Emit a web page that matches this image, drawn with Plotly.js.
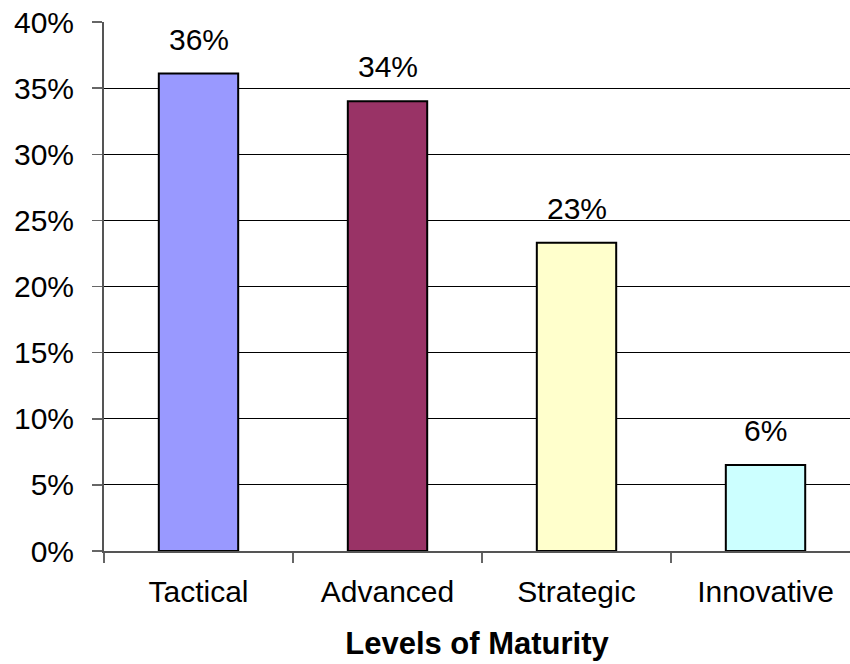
<!DOCTYPE html>
<html>
<head>
<meta charset="utf-8">
<script src="https://cdn.plot.ly/plotly-3.0.1.min.js"></script>
<style>html,body{margin:0;padding:0;background:#fff;}#chart{width:850px;height:664px;}</style>
</head>
<body>
<div id="chart"></div>
<script>
const categories = ["Tactical", "Advanced", "Strategic", "Innovative"];
const values = [0.361, 0.340, 0.233, 0.065];
const valueLabels = ["36%", "34%", "23%", "6%"];
const barColors = ["#9999FF", "#993366", "#FFFFCC", "#CCFFFF"];
const yTicks = [0, 0.05, 0.10, 0.15, 0.20, 0.25, 0.30, 0.35, 0.40];
const yTickLabels = ["0%", "5%", "10%", "15%", "20%", "25%", "30%", "35%", "40%"];
const xTitle = "Levels of Maturity";

const FONT = '"Liberation Sans", Arial, sans-serif';

const trace = {
  type: 'bar',
  x: categories,
  y: values,
  width: 0.42,
  marker: {color: barColors, line: {color: '#000000', width: 2}},
  hoverinfo: 'none'
};

const annotations = categories.map((c, i) => ({
  x: c, y: values[i], xref: 'x', yref: 'y',
  text: valueLabels[i], showarrow: false,
  yanchor: 'bottom', yshift: 16,
  font: {family: FONT, size: 30, color: '#000'}
}));

const layout = {
  width: 850, height: 664,
  margin: {l: 104, r: 0, t: 22, b: 113},
  paper_bgcolor: '#ffffff', plot_bgcolor: '#ffffff',
  showlegend: false,
  font: {family: FONT, color: '#000'},
  xaxis: {
    type: 'category',
    range: [-0.5, 3.447],
    showgrid: false,
    showline: true, linecolor: '#555555', linewidth: 2,
    ticks: 'outside', tickson: 'boundaries', ticklen: 10, tickwidth: 1.5, tickcolor: '#666666',
    tickfont: {family: FONT, size: 30, color: '#000'},
    ticklabelstandoff: 13,
    title: {text: '<b>' + xTitle + '</b>', font: {family: FONT, size: 31, color: '#000'}, standoff: 25},
    fixedrange: true
  },
  yaxis: {
    range: [0, 0.40],
    tickvals: yTicks, ticktext: yTickLabels,
    showgrid: true, gridcolor: '#000000', gridwidth: 1,
    showline: true, linecolor: '#555555', linewidth: 2,
    ticks: 'outside', ticklen: 10, tickwidth: 1.5, tickcolor: '#666666',
    tickfont: {family: FONT, size: 30, color: '#000'},
    ticklabelstandoff: 12,
    zeroline: false,
    fixedrange: true
  },
  annotations: annotations
};

Plotly.newPlot('chart', [trace], layout, {displayModeBar: false, staticPlot: true});
</script>
</body>
</html>
